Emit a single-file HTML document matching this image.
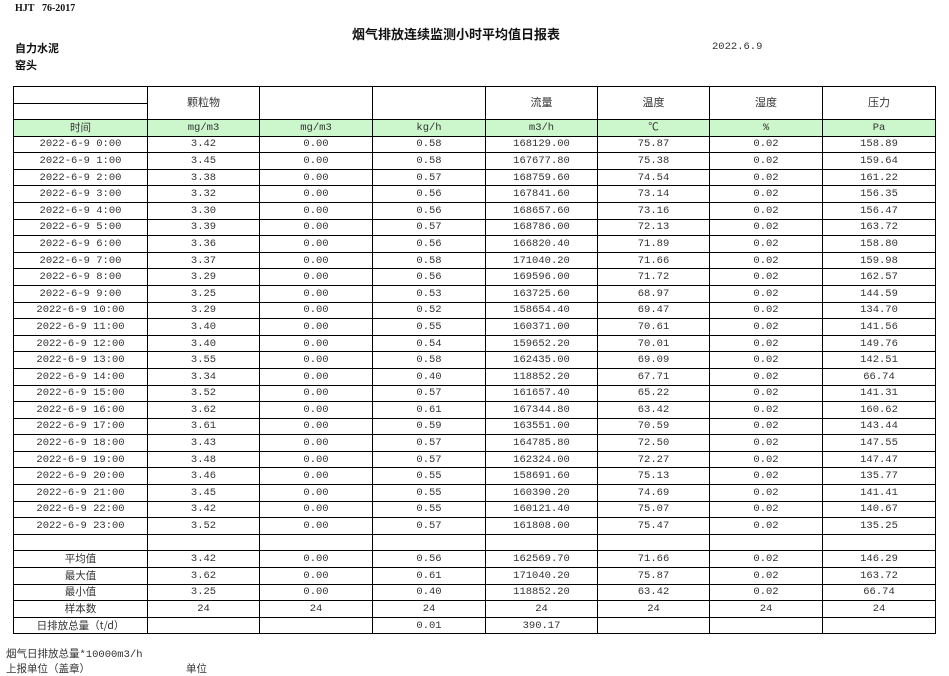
<!DOCTYPE html>
<html><head><meta charset="utf-8"><style>
body{margin:0;width:949px;height:675px;background:#fff;position:relative;overflow:hidden;font-family:"Liberation Mono","Noto Sans CJK SC",monospace;color:#333}
.a{position:absolute;white-space:nowrap}
table{position:absolute;left:13px;top:86px;border-collapse:collapse;table-layout:fixed;width:923px}
td{border:1px solid #000;padding:0;text-align:center;font-size:10.5px;height:15.6px;line-height:14px;overflow:hidden;white-space:nowrap}
tr.g td{background:#ccf7cc}
.h td{font-family:"Liberation Sans","Noto Sans CJK SC",sans-serif;font-size:11px}
</style></head><body>
<div class="a" style="left:15px;top:3px;font:bold 10px 'Liberation Serif',serif;color:#111">HJT&nbsp;&nbsp;&nbsp;76-2017</div>
<div class="a" style="left:352px;top:24px;font:bold 13px 'Noto Sans CJK SC',sans-serif;color:#111">烟气排放连续监测小时平均值日报表</div>
<div class="a" style="left:15px;top:40px;font:bold 11px 'Noto Sans CJK SC',sans-serif;color:#111">自力水泥</div>
<div class="a" style="left:15px;top:57px;font:bold 11px 'Noto Sans CJK SC',sans-serif;color:#111">窑头</div>
<div class="a" style="left:712px;top:41px;font-size:10.5px">2022.6.9</div>
<table>
<colgroup><col style="width:134px"><col style="width:112px"><col style="width:113px"><col style="width:113px"><col style="width:112px"><col style="width:112px"><col style="width:113px"><col style="width:113px"></colgroup>
<tr class="h"><td style="height:16px"></td><td rowspan="2">颗粒物</td><td rowspan="2"></td><td rowspan="2"></td><td rowspan="2">流量</td><td rowspan="2">温度</td><td rowspan="2">湿度</td><td rowspan="2">压力</td></tr>
<tr class="h"><td style="height:15px"></td></tr>
<tr class="g"><td style="font-family:'Noto Sans CJK SC',sans-serif">时间</td><td>mg/m3</td><td>mg/m3</td><td>kg/h</td><td>m3/h</td><td>℃</td><td>%</td><td>Pa</td></tr>
<tr><td>2022-6-9 0:00</td><td>3.42</td><td>0.00</td><td>0.58</td><td>168129.00</td><td>75.87</td><td>0.02</td><td>158.89</td></tr>
<tr><td>2022-6-9 1:00</td><td>3.45</td><td>0.00</td><td>0.58</td><td>167677.80</td><td>75.38</td><td>0.02</td><td>159.64</td></tr>
<tr><td>2022-6-9 2:00</td><td>3.38</td><td>0.00</td><td>0.57</td><td>168759.60</td><td>74.54</td><td>0.02</td><td>161.22</td></tr>
<tr><td>2022-6-9 3:00</td><td>3.32</td><td>0.00</td><td>0.56</td><td>167841.60</td><td>73.14</td><td>0.02</td><td>156.35</td></tr>
<tr><td>2022-6-9 4:00</td><td>3.30</td><td>0.00</td><td>0.56</td><td>168657.60</td><td>73.16</td><td>0.02</td><td>156.47</td></tr>
<tr><td>2022-6-9 5:00</td><td>3.39</td><td>0.00</td><td>0.57</td><td>168786.00</td><td>72.13</td><td>0.02</td><td>163.72</td></tr>
<tr><td>2022-6-9 6:00</td><td>3.36</td><td>0.00</td><td>0.56</td><td>166820.40</td><td>71.89</td><td>0.02</td><td>158.80</td></tr>
<tr><td>2022-6-9 7:00</td><td>3.37</td><td>0.00</td><td>0.58</td><td>171040.20</td><td>71.66</td><td>0.02</td><td>159.98</td></tr>
<tr><td>2022-6-9 8:00</td><td>3.29</td><td>0.00</td><td>0.56</td><td>169596.00</td><td>71.72</td><td>0.02</td><td>162.57</td></tr>
<tr><td>2022-6-9 9:00</td><td>3.25</td><td>0.00</td><td>0.53</td><td>163725.60</td><td>68.97</td><td>0.02</td><td>144.59</td></tr>
<tr><td>2022-6-9 10:00</td><td>3.29</td><td>0.00</td><td>0.52</td><td>158654.40</td><td>69.47</td><td>0.02</td><td>134.70</td></tr>
<tr><td>2022-6-9 11:00</td><td>3.40</td><td>0.00</td><td>0.55</td><td>160371.00</td><td>70.61</td><td>0.02</td><td>141.56</td></tr>
<tr><td>2022-6-9 12:00</td><td>3.40</td><td>0.00</td><td>0.54</td><td>159652.20</td><td>70.01</td><td>0.02</td><td>149.76</td></tr>
<tr><td>2022-6-9 13:00</td><td>3.55</td><td>0.00</td><td>0.58</td><td>162435.00</td><td>69.09</td><td>0.02</td><td>142.51</td></tr>
<tr><td>2022-6-9 14:00</td><td>3.34</td><td>0.00</td><td>0.40</td><td>118852.20</td><td>67.71</td><td>0.02</td><td>66.74</td></tr>
<tr><td>2022-6-9 15:00</td><td>3.52</td><td>0.00</td><td>0.57</td><td>161657.40</td><td>65.22</td><td>0.02</td><td>141.31</td></tr>
<tr><td>2022-6-9 16:00</td><td>3.62</td><td>0.00</td><td>0.61</td><td>167344.80</td><td>63.42</td><td>0.02</td><td>160.62</td></tr>
<tr><td>2022-6-9 17:00</td><td>3.61</td><td>0.00</td><td>0.59</td><td>163551.00</td><td>70.59</td><td>0.02</td><td>143.44</td></tr>
<tr><td>2022-6-9 18:00</td><td>3.43</td><td>0.00</td><td>0.57</td><td>164785.80</td><td>72.50</td><td>0.02</td><td>147.55</td></tr>
<tr><td>2022-6-9 19:00</td><td>3.48</td><td>0.00</td><td>0.57</td><td>162324.00</td><td>72.27</td><td>0.02</td><td>147.47</td></tr>
<tr><td>2022-6-9 20:00</td><td>3.46</td><td>0.00</td><td>0.55</td><td>158691.60</td><td>75.13</td><td>0.02</td><td>135.77</td></tr>
<tr><td>2022-6-9 21:00</td><td>3.45</td><td>0.00</td><td>0.55</td><td>160390.20</td><td>74.69</td><td>0.02</td><td>141.41</td></tr>
<tr><td>2022-6-9 22:00</td><td>3.42</td><td>0.00</td><td>0.55</td><td>160121.40</td><td>75.07</td><td>0.02</td><td>140.67</td></tr>
<tr><td>2022-6-9 23:00</td><td>3.52</td><td>0.00</td><td>0.57</td><td>161808.00</td><td>75.47</td><td>0.02</td><td>135.25</td></tr>
<tr><td></td><td></td><td></td><td></td><td></td><td></td><td></td><td></td></tr>
<tr><td style="font-family:'Noto Sans CJK SC',sans-serif">平均值</td><td>3.42</td><td>0.00</td><td>0.56</td><td>162569.70</td><td>71.66</td><td>0.02</td><td>146.29</td></tr>
<tr><td style="font-family:'Noto Sans CJK SC',sans-serif">最大值</td><td>3.62</td><td>0.00</td><td>0.61</td><td>171040.20</td><td>75.87</td><td>0.02</td><td>163.72</td></tr>
<tr><td style="font-family:'Noto Sans CJK SC',sans-serif">最小值</td><td>3.25</td><td>0.00</td><td>0.40</td><td>118852.20</td><td>63.42</td><td>0.02</td><td>66.74</td></tr>
<tr><td style="font-family:'Noto Sans CJK SC',sans-serif">样本数</td><td>24</td><td>24</td><td>24</td><td>24</td><td>24</td><td>24</td><td>24</td></tr>
<tr><td style="height:12px;font-family:'Noto Sans CJK SC',sans-serif">日排放总量（t/d）</td><td></td><td></td><td>0.01</td><td>390.17</td><td></td><td></td><td></td></tr>
</table>
<div class="a" style="left:6px;top:646px;font-size:10.5px;font-family:'Liberation Mono','Noto Sans CJK SC',monospace">烟气日排放总量*10000m3/h</div>
<div class="a" style="left:6px;top:661px;font-size:10.5px;font-family:'Noto Sans CJK SC',sans-serif">上报单位（盖章）</div>
<div class="a" style="left:186px;top:661px;font-size:10.5px;font-family:'Noto Sans CJK SC',sans-serif">单位</div>
</body></html>
